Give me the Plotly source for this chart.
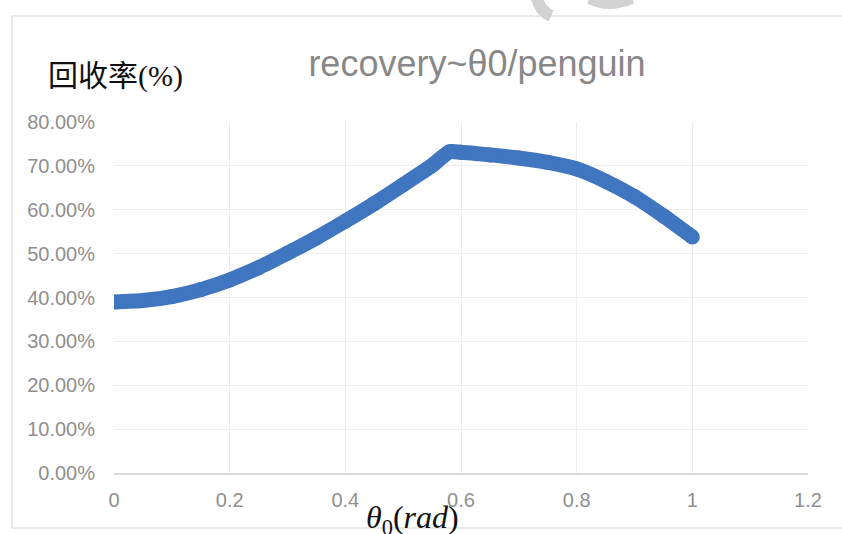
import plotly.graph_objects as go

# Launch angle theta0 (rad) and recovery ratio
theta0 = [0.0, 0.05, 0.10, 0.15, 0.20, 0.25, 0.30, 0.35, 0.40, 0.45, 0.50, 0.55,
          0.58, 0.60, 0.65, 0.70, 0.75, 0.80, 0.85, 0.90, 0.95, 1.00]
recovery = [0.390, 0.393, 0.402, 0.418, 0.440, 0.468, 0.501, 0.536, 0.574, 0.614,
            0.657, 0.701, 0.732, 0.731, 0.725, 0.718, 0.708, 0.693, 0.665, 0.630,
            0.586, 0.538]

x_ticks = [0, 0.2, 0.4, 0.6, 0.8, 1.0, 1.2]
x_tick_text = ["0", "0.2", "0.4", "0.6", "0.8", "1", "1.2"]
y_ticks = [0, 0.1, 0.2, 0.3, 0.4, 0.5, 0.6, 0.7, 0.8]

W, H = 842, 534
L, R, T, B = 114, 34, 122, 61
PW, PH = W - L - R, H - T - B


def px(xp):
    return (xp - L) / PW


def py(yp):
    return (H - B - yp) / PH


BLUE = "#4075BF"
GRID = "#eeeeee"
TICK = "#8f8f8f"

fig = go.Figure()
fig.add_trace(go.Scatter(
    x=theta0, y=recovery,
    mode="lines+markers",
    line=dict(color=BLUE, width=15, shape="spline", smoothing=0.6),
    marker=dict(color=BLUE, size=15),
    hoverinfo="skip",
    showlegend=False,
))

fig.update_layout(
    width=W, height=H,
    margin=dict(l=L, r=R, t=T, b=B),
    paper_bgcolor="white",
    plot_bgcolor="white",
    title=dict(
        text="recovery~θ0/penguin",
        x=px(477), xanchor="center", xref="paper",
        y=1 - 63 / H, yanchor="middle", yref="container",
        font=dict(family="Liberation Sans, Arial, sans-serif", size=36, color="#888888"),
    ),
    xaxis=dict(
        range=[0, 1.2],
        tickvals=x_ticks, ticktext=x_tick_text,
        showgrid=True, gridcolor=GRID, gridwidth=1.2,
        zeroline=False,
        showline=True, linecolor="#d9d9d9", linewidth=1.5,
        ticks="", ticklabelstandoff=8,
        tickfont=dict(family="Liberation Sans, Arial, sans-serif", size=20, color=TICK),
        fixedrange=True,
    ),
    yaxis=dict(
        range=[0, 0.8],
        tickvals=y_ticks, tickformat=".2%",
        showgrid=True, gridcolor=GRID, gridwidth=1.2,
        zeroline=False, showline=False,
        ticks="", ticklabelstandoff=18,
        tickfont=dict(family="Liberation Sans, Arial, sans-serif", size=20, color=TICK),
        fixedrange=True,
    ),
    annotations=[
        dict(
            text="回收率(%)",
            xref="paper", yref="paper",
            x=px(115), y=py(76), xanchor="center", yanchor="middle",
            showarrow=False,
            font=dict(family="Liberation Serif, Noto Sans CJK SC, serif", size=30, color="#111111"),
        ),
        dict(
            text="<i>θ</i><sub>0</sub>(<i>rad</i>)",
            xref="paper", yref="paper",
            x=px(412), y=py(519), xanchor="center", yanchor="middle",
            showarrow=False,
            font=dict(family="Liberation Serif, Times New Roman, serif", size=32, color="#111111"),
        ),
    ],
    shapes=[
        # outer chart frame: left, top and bottom edges (right edge runs off the page)
        dict(type="path", xref="paper", yref="paper",
             path=(f"M {px(950)},{py(16)} L {px(12)},{py(16)} "
                   f"L {px(12)},{py(528)} L {px(950)},{py(528)}"),
             line=dict(color="#e4e4e4", width=1.5), layer="below"),
        # faint watermark strokes above the frame
        dict(type="path", xref="paper", yref="paper",
             path=f"M {px(537)},{py(-2)} Q {px(540)},{py(11)} {px(551)},{py(16)}",
             line=dict(color="#d2d2d2", width=12)),
        dict(type="path", xref="paper", yref="paper",
             path=f"M {px(590)},{py(-2)} Q {px(608)},{py(8)} {px(632)},{py(-2)}",
             line=dict(color="#d2d2d2", width=12)),
    ],
)

fig.write_html("out.html")
